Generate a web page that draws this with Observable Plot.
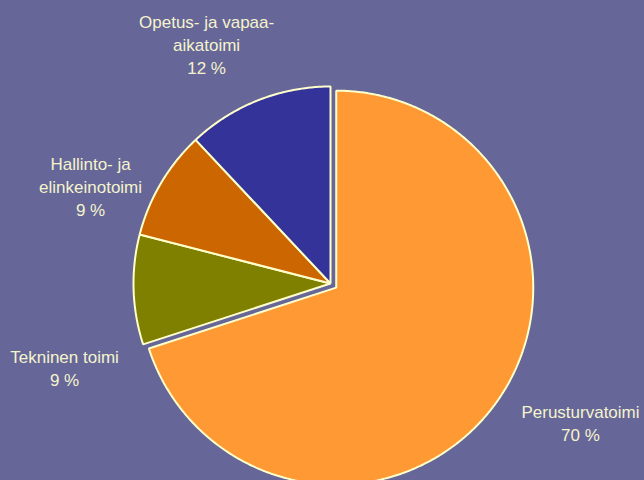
<!DOCTYPE html>
<html>
<head>
<meta charset="utf-8">
<script src="https://cdn.jsdelivr.net/npm/d3@7"></script>
<script src="https://cdn.jsdelivr.net/npm/@observablehq/plot@0.6"></script>
<style>
  html, body { margin: 0; padding: 0; background: #666699; }
  #chart { width: 644px; height: 480px; overflow: hidden; }
</style>
</head>
<body>
<div id="chart"></div>
<script>
// Data
const categories = ["Perusturvatoimi", "Tekninen toimi", "Hallinto- ja\nelinkeinotoimi", "Opetus- ja vapaa-\naikatoimi"];
const values = [70, 9, 9, 12];
const percentLabels = ["70 %", "9 %", "9 %", "12 %"];
const colors = ["#FF9933", "#808000", "#CC6600", "#333399"];
const exploded = [0.036, 0, 0, 0];
// label anchor positions in pie units (radius = 1)
const labelPos = [[1.269, -0.703], [-1.350, -0.424], [-1.218, 0.497], [-0.629, 1.218]];

const total = d3.sum(values);
let acc = 0;
const polys = [];
categories.forEach((c, i) => {
  const a0 = acc / total * 2 * Math.PI;
  acc += values[i];
  const a1 = acc / total * 2 * Math.PI;
  const mid = (a0 + a1) / 2;
  const ox = exploded[i] * Math.sin(mid), oy = exploded[i] * Math.cos(mid);
  polys.push({k: i, x: ox, y: oy});
  const n = Math.max(2, Math.ceil((a1 - a0) / (Math.PI / 360)));
  for (let j = 0; j <= n; j++) {
    const a = a0 + (a1 - a0) * j / n;
    polys.push({k: i, x: ox + Math.sin(a), y: oy + Math.cos(a)});
  }
});

const labels = categories.map((c, i) => ({
  text: c + "\n" + percentLabels[i],
  x: labelPos[i][0],
  y: labelPos[i][1]
}));

const chart = Plot.plot({
  width: 644,
  height: 480,
  margin: 0,
  style: {background: "#666699", overflow: "hidden"},
  x: {domain: [-1, 1], range: [133, 527], axis: null},
  y: {domain: [-1, 1], range: [480, 86], axis: null},
  marks: [
    Plot.line(polys, {
      x: "x", y: "y", z: "k",
      fill: d => colors[d.k],
      stroke: "#FFFFCC", strokeWidth: 2,
      strokeLinejoin: "miter",
      curve: "linear-closed"
    }),
    Plot.text(labels, {
      x: "x", y: "y", text: "text",
      fill: "#F4F4CC",
      fontSize: 17,
      fontFamily: "Liberation Sans, Arial, sans-serif",
      lineHeight: 1.36,
      textAnchor: "middle"
    })
  ]
});
document.getElementById("chart").appendChild(chart);
</script>
</body>
</html>
